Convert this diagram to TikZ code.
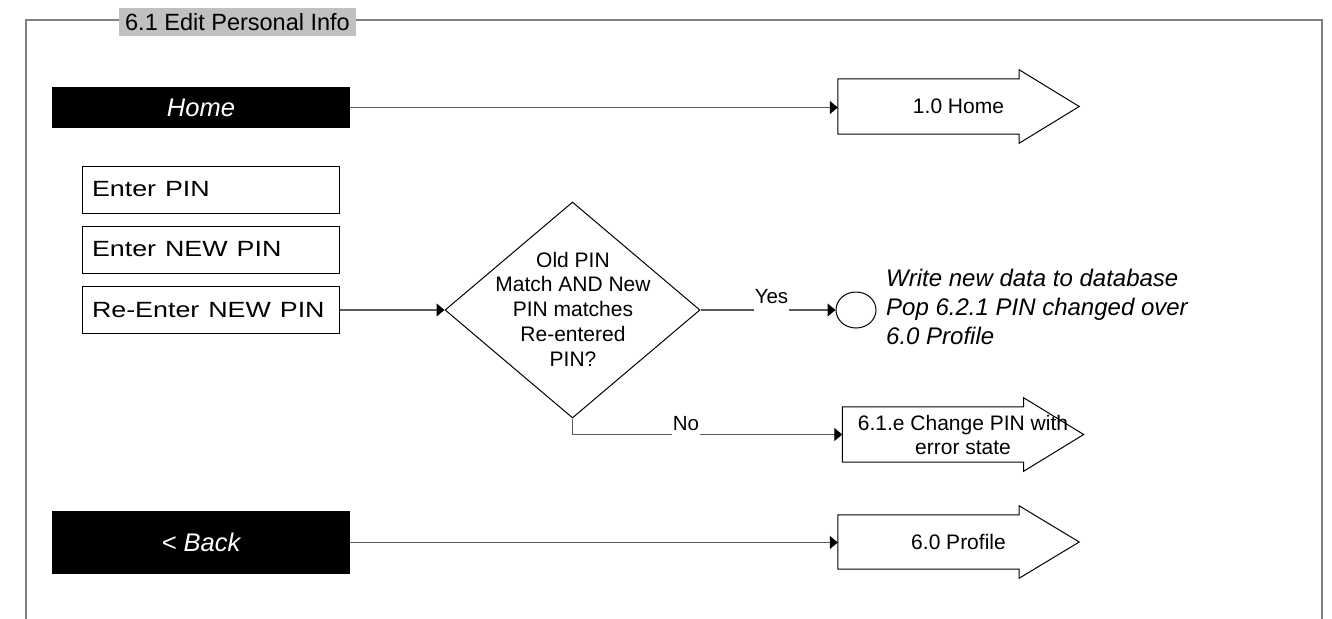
\documentclass[tikz,border=0pt]{standalone}
\usepackage{fontspec}
\usepackage{graphicx}
\setmainfont{Liberation Sans}
\usetikzlibrary{arrows.meta,shapes.geometric}
\definecolor{framegray}{HTML}{7F7F7F}
\definecolor{titlegray}{HTML}{C0C0C0}
\definecolor{conngray}{HTML}{5A5A5A}
\newcommand\pageArrow[1]{%
  \draw[shapeline] (#1.south west) -- (#1.north west)
    -- ([xshift=-60pt]#1.north east) -- ([xshift=-60pt,yshift=9pt]#1.north east)
    -- (#1.east)
    -- ([xshift=-60pt,yshift=-9pt]#1.south east) -- ([xshift=-60pt]#1.south east)
    -- cycle;}
\newcommand\wideText[1]{\scalebox{1.22}[1]{#1}}
\begin{document}
\begin{tikzpicture}[x=1pt,y=-1pt,
  shapeline/.style={draw=black,line width=1pt},
  conn/.style={draw=conngray,line width=1.1pt,-{Triangle[length=8pt,width=13pt,color=black]}},
  titlebox/.style={fill=titlegray,inner sep=0pt,minimum width=237pt,minimum height=28pt,font=\fontsize{23.5}{28}\selectfont},
  blackbtn/.style={fill=black,text=white,inner sep=0pt,minimum width=298pt,font=\fontsize{25.5}{30}\selectfont\itshape},
  inputbox/.style={draw=black,line width=1pt,inner xsep=10pt,inner ysep=0pt,text width=237pt,align=left,minimum height=47pt,font=\fontsize{22}{26}\selectfont},
  pagearrowbox/.style={inner sep=0pt,minimum width=241pt,minimum height=55pt,align=center,font=\fontsize{21}{24}\selectfont},
  lbl/.style={fill=white,inner xsep=1pt,inner ysep=0pt,text depth=8pt,anchor=base,font=\fontsize{20.5}{24}\selectfont}]
\useasboundingbox (0,0) rectangle (1332,618);
\fill[white] (0,0) rectangle (1332,618);
% frame
\draw[framegray,line width=2pt] (26,620) -- (26,20) -- (1322,20) -- (1322,620);
\node[titlebox] (title) at (237.5,22) {6.1 Edit Personal Info};
% buttons
\node[blackbtn,minimum height=41pt] (home) at (201,107.5) {Home};
\node[blackbtn,minimum height=63pt] (back) at (201,542.5) {< Back};
% input boxes
\node[inputbox] (pin) at (210.5,189.5) {\wideText{Enter PIN}};
\node[inputbox] (newpin) at (210.5,249.5) {\wideText{Enter NEW PIN}};
\node[inputbox] (repin) at (210.5,310) {\wideText{Re-Enter NEW PIN}};
% decision
\node[diamond,draw=black,line width=1pt,inner sep=0pt,minimum width=255pt,minimum height=216pt] (dia) at (572.5,310) {};
\node[align=center,inner sep=0pt,font=\fontsize{21}{24.7}\selectfont] (diatext) at (573,309) {Old PIN\\Match AND New\\PIN matches\\Re-entered\\PIN?};
% terminal circle and note
\node[ellipse,draw=black,line width=1pt,inner sep=0pt,minimum width=40pt,minimum height=36pt] (circ) at (856,310) {};
\node[anchor=west,inner sep=0pt,align=left,font=\fontsize{24}{29}\selectfont\itshape] (note) at (886,307) {Write new data to database\\Pop 6.2.1 PIN changed over\\6.0 Profile};
% page arrows
\node[pagearrowbox] (homeArr) at (958.5,106.5) {1.0 Home};
\pageArrow{homeArr}
\node[pagearrowbox] (errArr) at (963,434.5) {6.1.e Change PIN with\\error state};
\pageArrow{errArr}
\node[pagearrowbox,minimum height=54pt] (profArr) at (958.5,542) {6.0 Profile};
\pageArrow{profArr}
% connectors
\draw[conn] (home.east) -- (home.east -| homeArr.west);
\draw[conn] (back.east) -- (back.east -| profArr.west);
\draw[conn] (repin.east) -- (repin.east -| dia.west);
\draw[conn] (dia.east) -- (circ.west);
\draw[conn] (dia.south) |- (errArr.west);
% labels
\node[lbl] (yes) at (771.5,303) {Yes};
\node[lbl] (no) at (686,430) {No};
\end{tikzpicture}
\end{document}
